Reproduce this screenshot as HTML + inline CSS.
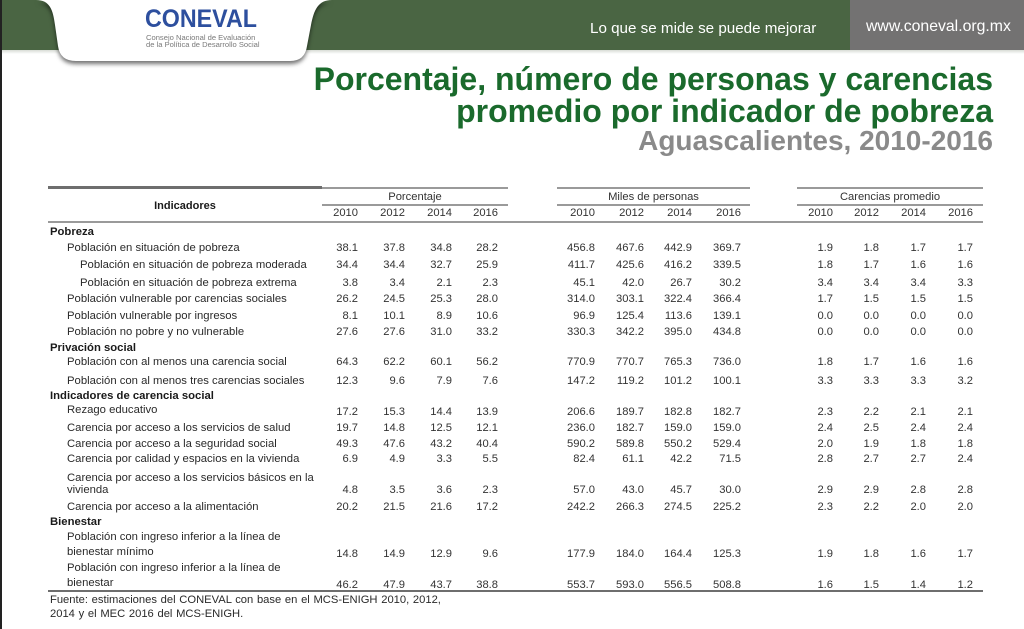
<!DOCTYPE html>
<html><head><meta charset="utf-8">
<style>
*{margin:0;padding:0;box-sizing:border-box}
body{width:1024px;height:629px;position:relative;overflow:hidden;background:#fff;font-family:"Liberation Sans",Arial,sans-serif;color:#2a2a2a}
.a{position:absolute;white-space:nowrap}
.band{left:0;top:0;width:1024px;height:50px;background:#4a6543}
.shadow{left:0;top:50px;width:1024px;height:4px;background:linear-gradient(#d8dcd6,#fff)}
.gray{left:850px;top:0;width:174px;height:50px;background:#737272}
.lbl{position:absolute;font-size:11.3px;line-height:14px;white-space:nowrap;color:#2a2a2a}
.b{font-weight:bold;color:#1a1a1a}
.row{position:absolute;left:0;width:1024px;height:14px}
.row span{position:absolute;top:0;width:40px;text-align:right;font-size:11.2px;line-height:14px;color:#333}
.c1{left:318px}.c2{left:365px}.c3{left:412px}.c4{left:458px}
.c5{left:555px}.c6{left:604px}.c7{left:652px}.c8{left:701px}
.c9{left:793px}.c10{left:839px}.c11{left:886px}.c12{left:933px}
.ln{position:absolute}
.t1{right:31px;top:63px;font-size:32px;line-height:32px;font-weight:bold;color:#1a6a2c}
.t2{right:31px;top:95px;font-size:32px;line-height:32px;font-weight:bold;color:#1a6a2c}
.t3{right:31px;top:127px;font-size:28px;line-height:28px;font-weight:bold;color:#8a8a8a}
.grp{position:absolute;font-size:11.2px;line-height:14px;text-align:center;color:#333}
</style></head><body>
<div class="a band"></div>
<div class="a shadow"></div>
<div class="a gray"></div>
<div class="a" style="left:0;top:0;width:2px;height:629px;background:#222"></div>

<svg class="a" style="left:0;top:0;filter:drop-shadow(0 3px 2px rgba(0,0,0,0.55))" width="360" height="80" viewBox="0 0 360 80">
<path d="M36 0 C50 0 53 10 55 25 L58 46 Q60 61 76 61 L290 61 Q305 61 307 46 L311 25 C314 10 318 0 332 0 Z" fill="#fff"/>
</svg>
<div class="a" style="left:145px;top:6px;font-size:25px;line-height:26px;font-weight:bold;color:#2d4f9e;transform:scaleX(0.93);transform-origin:left top">CONEVAL</div>
<div class="a" style="left:146px;top:34px;font-size:7.6px;line-height:8px;color:#7a7a7a">Consejo Nacional de Evaluación</div>
<div class="a" style="left:146px;top:41px;font-size:7.6px;line-height:8px;color:#7a7a7a">de la Política de Desarrollo Social</div>

<div class="a" style="left:590px;top:20px;font-size:15.2px;line-height:18px;color:#fff">Lo que se mide se puede mejorar</div>
<div class="a" style="left:866px;top:18px;font-size:15.8px;line-height:18px;color:#fff">www.coneval.org.mx</div>

<div class="a t1">Porcentaje, número de personas y carencias</div>
<div class="a t2">promedio por indicador de pobreza</div>
<div class="a t3">Aguascalientes, 2010-2016</div>

<div class="ln" style="left:48px;top:186px;width:274px;height:3px;background:#6e6e6e"></div>
<div class="ln" style="left:322px;top:187px;width:186px;height:2px;background:#9a9a9a"></div>
<div class="ln" style="left:557px;top:187px;width:193px;height:2px;background:#9a9a9a"></div>
<div class="ln" style="left:797px;top:187px;width:186px;height:2px;background:#9a9a9a"></div>
<div class="ln" style="left:322px;top:204px;width:186px;height:2px;background:#9a9a9a"></div>
<div class="ln" style="left:557px;top:204px;width:193px;height:2px;background:#9a9a9a"></div>
<div class="ln" style="left:797px;top:204px;width:186px;height:2px;background:#9a9a9a"></div>
<div class="ln" style="left:48px;top:221px;width:935px;height:2px;background:#9a9a9a"></div>
<div class="ln" style="left:48px;top:590px;width:935px;height:2px;background:#6e6e6e"></div>

<div class="lbl b" style="left:48px;width:274px;text-align:center;top:199px;font-size:11px">Indicadores</div>
<div class="grp" style="left:322px;width:186px;top:190px">Porcentaje</div>
<div class="grp" style="left:557px;width:193px;top:190px">Miles de personas</div>
<div class="grp" style="left:797px;width:186px;top:190px">Carencias promedio</div>

<div class="row" style="top:206px">
<span class="c1">2010</span><span class="c2">2012</span><span class="c3">2014</span><span class="c4">2016</span>
<span class="c5">2010</span><span class="c6">2012</span><span class="c7">2014</span><span class="c8">2016</span>
<span class="c9">2010</span><span class="c10">2012</span><span class="c11">2014</span><span class="c12">2016</span>
</div>

<div class="lbl b" style="left:50px;top:225px">Pobreza</div>
<div class="lbl" style="left:67px;top:241px">Población en situación de pobreza</div>
<div class="lbl" style="left:80px;top:258px">Población en situación de pobreza moderada</div>
<div class="lbl" style="left:80px;top:276px">Población en situación de pobreza extrema</div>
<div class="lbl" style="left:67px;top:292px">Población vulnerable por carencias sociales</div>
<div class="lbl" style="left:67px;top:309px">Población vulnerable por ingresos</div>
<div class="lbl" style="left:67px;top:325px">Población no pobre y no vulnerable</div>
<div class="lbl b" style="left:50px;top:341px">Privación social</div>
<div class="lbl" style="left:67px;top:355px">Población con al menos una carencia social</div>
<div class="lbl" style="left:67px;top:374px">Población con al menos tres carencias sociales</div>
<div class="lbl b" style="left:50px;top:389px">Indicadores de carencia social</div>
<div class="lbl" style="left:67px;top:403px">Rezago educativo</div>
<div class="lbl" style="left:67px;top:421px">Carencia por acceso a los servicios de salud</div>
<div class="lbl" style="left:67px;top:437px">Carencia por acceso a la seguridad social</div>
<div class="lbl" style="left:67px;top:452px">Carencia por calidad y espacios en la vivienda</div>
<div class="lbl" style="left:67px;top:471px">Carencia por acceso a los servicios básicos en la</div>
<div class="lbl" style="left:67px;top:483px">vivienda</div>
<div class="lbl" style="left:67px;top:500px">Carencia por acceso a la alimentación</div>
<div class="lbl b" style="left:50px;top:515px">Bienestar</div>
<div class="lbl" style="left:67px;top:530px">Población con ingreso inferior a la línea de</div>
<div class="lbl" style="left:67px;top:545px">bienestar mínimo</div>
<div class="lbl" style="left:67px;top:561px">Población con ingreso inferior a la línea de</div>
<div class="lbl" style="left:67px;top:576px">bienestar</div>

<div class="row" style="top:241px"><span class="c1">38.1</span><span class="c2">37.8</span><span class="c3">34.8</span><span class="c4">28.2</span><span class="c5">456.8</span><span class="c6">467.6</span><span class="c7">442.9</span><span class="c8">369.7</span><span class="c9">1.9</span><span class="c10">1.8</span><span class="c11">1.7</span><span class="c12">1.7</span></div>
<div class="row" style="top:258px"><span class="c1">34.4</span><span class="c2">34.4</span><span class="c3">32.7</span><span class="c4">25.9</span><span class="c5">411.7</span><span class="c6">425.6</span><span class="c7">416.2</span><span class="c8">339.5</span><span class="c9">1.8</span><span class="c10">1.7</span><span class="c11">1.6</span><span class="c12">1.6</span></div>
<div class="row" style="top:276px"><span class="c1">3.8</span><span class="c2">3.4</span><span class="c3">2.1</span><span class="c4">2.3</span><span class="c5">45.1</span><span class="c6">42.0</span><span class="c7">26.7</span><span class="c8">30.2</span><span class="c9">3.4</span><span class="c10">3.4</span><span class="c11">3.4</span><span class="c12">3.3</span></div>
<div class="row" style="top:292px"><span class="c1">26.2</span><span class="c2">24.5</span><span class="c3">25.3</span><span class="c4">28.0</span><span class="c5">314.0</span><span class="c6">303.1</span><span class="c7">322.4</span><span class="c8">366.4</span><span class="c9">1.7</span><span class="c10">1.5</span><span class="c11">1.5</span><span class="c12">1.5</span></div>
<div class="row" style="top:309px"><span class="c1">8.1</span><span class="c2">10.1</span><span class="c3">8.9</span><span class="c4">10.6</span><span class="c5">96.9</span><span class="c6">125.4</span><span class="c7">113.6</span><span class="c8">139.1</span><span class="c9">0.0</span><span class="c10">0.0</span><span class="c11">0.0</span><span class="c12">0.0</span></div>
<div class="row" style="top:325px"><span class="c1">27.6</span><span class="c2">27.6</span><span class="c3">31.0</span><span class="c4">33.2</span><span class="c5">330.3</span><span class="c6">342.2</span><span class="c7">395.0</span><span class="c8">434.8</span><span class="c9">0.0</span><span class="c10">0.0</span><span class="c11">0.0</span><span class="c12">0.0</span></div>
<div class="row" style="top:355px"><span class="c1">64.3</span><span class="c2">62.2</span><span class="c3">60.1</span><span class="c4">56.2</span><span class="c5">770.9</span><span class="c6">770.7</span><span class="c7">765.3</span><span class="c8">736.0</span><span class="c9">1.8</span><span class="c10">1.7</span><span class="c11">1.6</span><span class="c12">1.6</span></div>
<div class="row" style="top:374px"><span class="c1">12.3</span><span class="c2">9.6</span><span class="c3">7.9</span><span class="c4">7.6</span><span class="c5">147.2</span><span class="c6">119.2</span><span class="c7">101.2</span><span class="c8">100.1</span><span class="c9">3.3</span><span class="c10">3.3</span><span class="c11">3.3</span><span class="c12">3.2</span></div>
<div class="row" style="top:405px"><span class="c1">17.2</span><span class="c2">15.3</span><span class="c3">14.4</span><span class="c4">13.9</span><span class="c5">206.6</span><span class="c6">189.7</span><span class="c7">182.8</span><span class="c8">182.7</span><span class="c9">2.3</span><span class="c10">2.2</span><span class="c11">2.1</span><span class="c12">2.1</span></div>
<div class="row" style="top:421px"><span class="c1">19.7</span><span class="c2">14.8</span><span class="c3">12.5</span><span class="c4">12.1</span><span class="c5">236.0</span><span class="c6">182.7</span><span class="c7">159.0</span><span class="c8">159.0</span><span class="c9">2.4</span><span class="c10">2.5</span><span class="c11">2.4</span><span class="c12">2.4</span></div>
<div class="row" style="top:437px"><span class="c1">49.3</span><span class="c2">47.6</span><span class="c3">43.2</span><span class="c4">40.4</span><span class="c5">590.2</span><span class="c6">589.8</span><span class="c7">550.2</span><span class="c8">529.4</span><span class="c9">2.0</span><span class="c10">1.9</span><span class="c11">1.8</span><span class="c12">1.8</span></div>
<div class="row" style="top:452px"><span class="c1">6.9</span><span class="c2">4.9</span><span class="c3">3.3</span><span class="c4">5.5</span><span class="c5">82.4</span><span class="c6">61.1</span><span class="c7">42.2</span><span class="c8">71.5</span><span class="c9">2.8</span><span class="c10">2.7</span><span class="c11">2.7</span><span class="c12">2.4</span></div>
<div class="row" style="top:483px"><span class="c1">4.8</span><span class="c2">3.5</span><span class="c3">3.6</span><span class="c4">2.3</span><span class="c5">57.0</span><span class="c6">43.0</span><span class="c7">45.7</span><span class="c8">30.0</span><span class="c9">2.9</span><span class="c10">2.9</span><span class="c11">2.8</span><span class="c12">2.8</span></div>
<div class="row" style="top:500px"><span class="c1">20.2</span><span class="c2">21.5</span><span class="c3">21.6</span><span class="c4">17.2</span><span class="c5">242.2</span><span class="c6">266.3</span><span class="c7">274.5</span><span class="c8">225.2</span><span class="c9">2.3</span><span class="c10">2.2</span><span class="c11">2.0</span><span class="c12">2.0</span></div>
<div class="row" style="top:547px"><span class="c1">14.8</span><span class="c2">14.9</span><span class="c3">12.9</span><span class="c4">9.6</span><span class="c5">177.9</span><span class="c6">184.0</span><span class="c7">164.4</span><span class="c8">125.3</span><span class="c9">1.9</span><span class="c10">1.8</span><span class="c11">1.6</span><span class="c12">1.7</span></div>
<div class="row" style="top:578px"><span class="c1">46.2</span><span class="c2">47.9</span><span class="c3">43.7</span><span class="c4">38.8</span><span class="c5">553.7</span><span class="c6">593.0</span><span class="c7">556.5</span><span class="c8">508.8</span><span class="c9">1.6</span><span class="c10">1.5</span><span class="c11">1.4</span><span class="c12">1.2</span></div>

<div class="lbl" style="left:50px;top:593px;font-size:11.2px;word-spacing:0.6px">Fuente: estimaciones del CONEVAL con base en el MCS-ENIGH 2010, 2012,</div>
<div class="lbl" style="left:50px;top:607px;font-size:11.2px;word-spacing:0.6px">2014 y el MEC 2016 del MCS-ENIGH.</div>
</body></html>
